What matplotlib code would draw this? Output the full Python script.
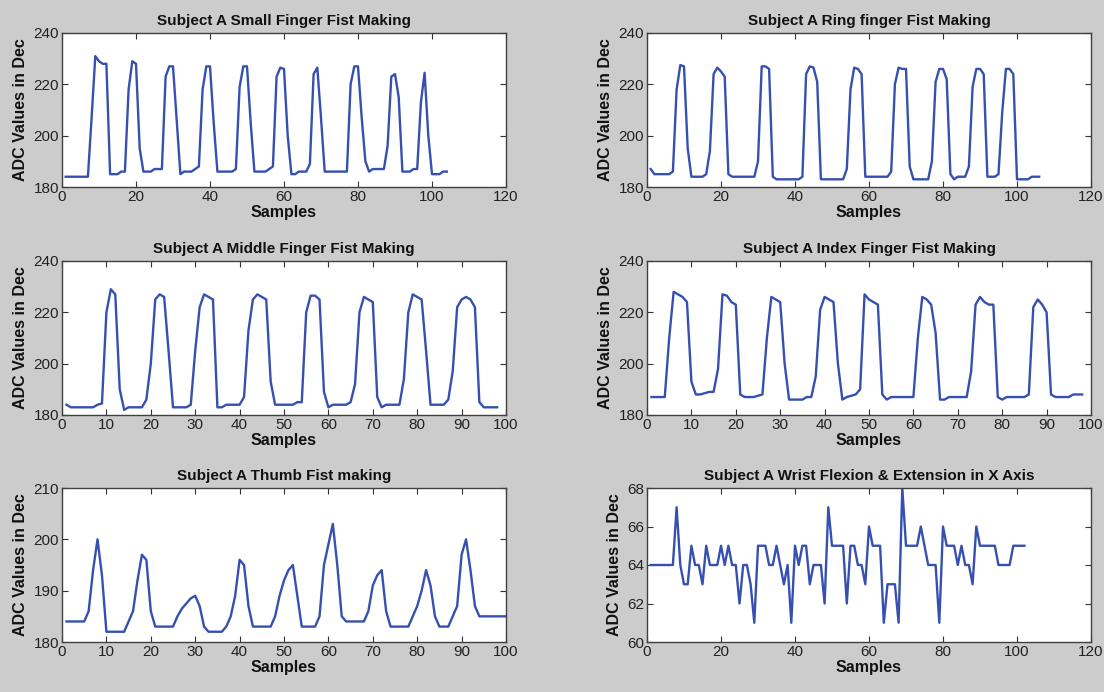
import matplotlib
matplotlib.use("Agg")
import matplotlib.pyplot as plt
from matplotlib import font_manager

# ---------------- data ----------------
small_finger = [184, 184, 184, 184, 184, 184, 184, 207, 231, 229, 228, 228, 185, 185, 185, 186, 186,
                218, 229, 228, 195, 186, 186, 186, 187, 187, 187, 223, 227, 227, 206, 185, 186, 186,
                186, 187, 188, 218, 227, 227, 205, 186, 186, 186, 186, 186, 187, 219, 227, 227, 205,
                186, 186, 186, 186, 187, 188, 223, 226.5, 226, 200, 185, 185, 186, 186, 186, 189, 224,
                226.5, 207, 186, 186, 186, 186, 186, 186, 186, 220, 227, 227, 207, 190, 186, 187, 187,
                187, 187, 196, 223, 224, 215, 186, 186, 186, 187, 187, 213, 224.5, 200, 185, 185, 185,
                186, 186]
ring_finger = [187, 185, 185, 185, 185, 185, 186, 218, 227.5, 227, 195, 184, 184, 184, 184, 185, 194,
               224, 226.5, 225, 223, 185, 184, 184, 184, 184, 184, 184, 184, 190, 227, 227, 226, 184,
               183, 183, 183, 183, 183, 183, 183, 184, 224, 227, 226.5, 221, 183, 183, 183, 183, 183,
               183, 183, 187, 218, 226.5, 226, 224, 184, 184, 184, 184, 184, 184, 184, 186, 220, 226.5,
               226, 226, 188, 183, 183, 183, 183, 183, 190, 221, 226, 226, 222, 185, 183, 184, 184,
               184, 188, 219, 226, 226, 224, 184, 184, 184, 185, 209, 226, 226, 224, 183, 183, 183,
               183, 184, 184, 184]
middle_finger = [184, 183, 183, 183, 183, 183, 183, 184, 184.5, 220, 229, 227, 190, 182, 183, 183, 183,
                 183, 186, 200, 225, 227, 226, 205, 183, 183, 183, 183, 184, 205, 222, 227, 226, 225,
                 183, 183, 184, 184, 184, 184, 187, 213, 225, 227, 226, 225, 193, 184, 184, 184, 184,
                 184, 185, 185, 220, 226.5, 226.5, 225, 189, 183, 184, 184, 184, 184, 185, 192, 220,
                 226, 225, 224, 187, 183, 184, 184, 184, 184, 194, 220, 227, 226, 225, 205, 184, 184,
                 184, 184, 186, 197, 222, 225, 226, 225, 222, 185, 183, 183, 183, 183]
index_finger = [187, 187, 187, 187, 210, 228, 227, 226, 224, 193, 188, 188, 188.5, 189, 189, 198, 227,
                226.5, 224, 223, 188, 187, 187, 187, 187.5, 188, 210, 226, 225, 224, 200, 186, 186, 186,
                186, 187, 187, 195, 221, 226, 225, 224, 200, 186, 187, 187.5, 188, 190, 227, 225, 224,
                223, 188, 186, 187, 187, 187, 187, 187, 187, 210, 226, 225, 223, 212, 186, 186, 187,
                187, 187, 187, 187, 197, 223, 226, 224, 223, 223, 187, 186, 187, 187, 187, 187, 187,
                188, 222, 225, 223, 220, 188, 187, 187, 187, 187, 188, 188, 188]
thumb = [184, 184, 184, 184, 184, 186, 194, 200, 193, 182, 182, 182, 182, 182, 184, 186, 192, 197, 196,
         186, 183, 183, 183, 183, 183, 185, 186.5, 187.5, 188.5, 189, 187, 183, 182, 182, 182, 182,
         183, 185, 189, 196, 195, 187, 183, 183, 183, 183, 183, 185, 189, 192, 194, 195, 189, 183,
         183, 183, 183, 185, 195, 199, 203, 195, 185, 184, 184, 184, 184, 184, 186, 191, 193, 194,
         186, 183, 183, 183, 183, 183, 185, 187, 190, 194, 191, 185, 183, 183, 183, 185, 187, 197,
         200, 194, 187, 185, 185, 185, 185, 185, 185, 185]
wrist_x = [64, 64, 64, 64, 64, 64, 64, 67, 64, 63, 63, 65, 64, 64, 63, 65, 64, 64, 64, 65, 64, 65, 64,
           64, 62, 64, 64, 63, 61, 65, 65, 65, 64, 64, 65, 64, 63, 64, 61, 65, 64, 65, 65, 63, 64, 64,
           64, 62, 67, 65, 65, 65, 65, 62, 65, 65, 64, 64, 63, 66, 65, 65, 65, 61, 63, 63, 63, 61, 68,
           65, 65, 65, 65, 66, 65, 64, 64, 64, 61, 66, 65, 65, 65, 64, 65, 64, 64, 63, 66, 65, 65, 65,
           65, 65, 64, 64, 64, 64, 65, 65, 65, 65]

titles = ["Subject A Small Finger Fist Making", "Subject A Ring finger Fist Making",
          "Subject A Middle Finger Fist Making", "Subject A Index Finger Fist Making",
          "Subject A Thumb Fist making", "Subject A Wrist Flexion & Extension in X Axis"]
series = [small_finger, ring_finger, middle_finger, index_finger, thumb, wrist_x]
xlims = [120, 120, 100, 100, 100, 120]
xstep = [20, 20, 10, 10, 10, 20]
ylims = [(180, 240), (180, 240), (180, 240), (180, 240), (180, 210), (60, 68)]
ystep = [20, 20, 20, 20, 10, 2]

# ---------------- style ----------------
avail = {f.name for f in font_manager.fontManager.ttflist}
base_font = "Liberation Sans" if "Liberation Sans" in avail else "DejaVu Sans"
tick_font = "Liberation Sans Narrow" if "Liberation Sans Narrow" in avail else base_font
plt.rcParams['font.family'] = [base_font, 'DejaVu Sans']

W, H = 1104, 692
fig = plt.figure(figsize=(W / 100, H / 100), dpi=100, facecolor="#cccccc")

col_left = [62 / W, 647 / W]
col_w = 444 / W
row_top = [33, 261, 488]
ax_h = 154 / H
line_color = "#3550b0"

for i, (data, title) in enumerate(zip(series, titles)):
    r, c = divmod(i, 2)
    bottom = 1 - (row_top[r] + 154) / H
    ax = fig.add_axes([col_left[c], bottom, col_w, ax_h])
    ax.set_facecolor("white")
    xs = list(range(1, len(data) + 1))
    ax.plot(xs, data, color=line_color, linewidth=1.7)
    ax.set_xlim(0, xlims[i])
    ax.set_ylim(*ylims[i])
    ax.set_xticks(range(0, xlims[i] + 1, xstep[i]))
    lo, hi = ylims[i]
    ax.set_yticks(range(lo, hi + 1, ystep[i]))
    ax.tick_params(direction="in", top=True, right=True, length=4, width=0.8,
                   colors="#333333", labelsize=11, pad=2)
    for lab in ax.get_xticklabels() + ax.get_yticklabels():
        lab.set_fontfamily(tick_font)
        lab.set_color("#222222")
    for sp in ax.spines.values():
        sp.set_color("#404040")
        sp.set_linewidth(1.0)
    ax.set_title(title, fontsize=11, fontweight="bold", pad=6, color="#111111")
    ax.set_xlabel("Samples", fontsize=11.5, fontweight="bold", labelpad=1, color="#111111")
    ax.set_ylabel("ADC Values in Dec", fontsize=11.5, fontweight="bold", labelpad=4, color="#111111")

fig.savefig("out.png", dpi=100, facecolor=fig.get_facecolor())
